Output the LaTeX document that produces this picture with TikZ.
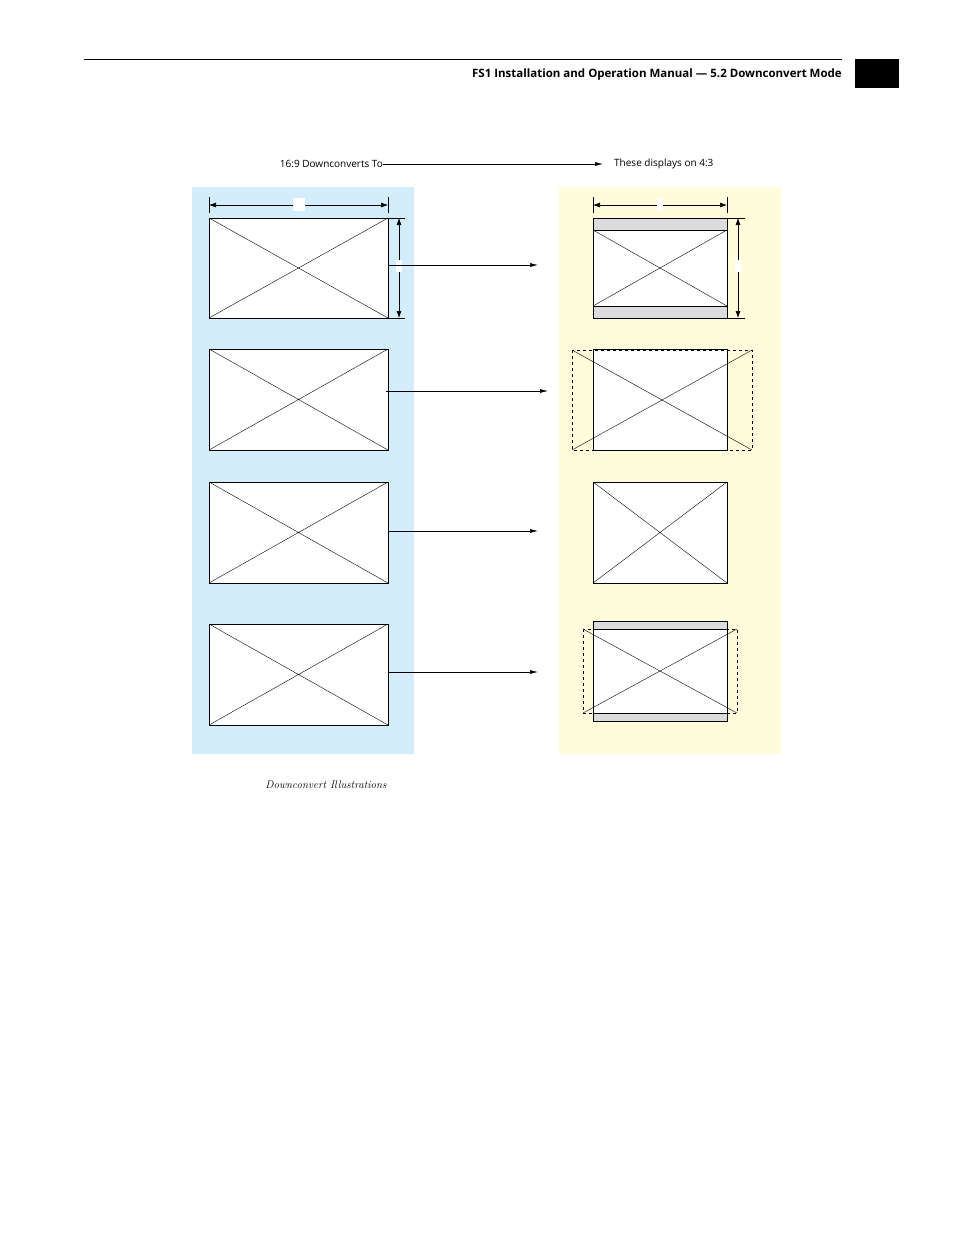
\documentclass[tikz,border=0pt]{standalone}
\usepackage{fontspec}
\setsansfont{Open Sans}
\usepackage{tikz}
\usetikzlibrary{calc,arrows.meta}
\definecolor{panelblue}{HTML}{D3EEFA}
\definecolor{panelyellow}{HTML}{FFFCDB}
\definecolor{bargray}{HTML}{DCDCDC}
\tikzset{
  frame/.style={draw, line width=0.7pt, fill=white},
  xline/.style={line width=0.4pt},
  dimline/.style={line width=0.6pt, {Latex[length=7pt,width=5pt]}-{Latex[length=7pt,width=5pt]}},
  conv/.style={line width=0.6pt, -{Latex[length=8pt,width=4pt]}},
  lbl/.style={font=\sffamily\fontsize{10}{12}\selectfont, inner sep=0pt}
}
\begin{document}
\begin{tikzpicture}[x=1pt,y=-1pt]
        \useasboundingbox (0,0) rectangle (954,1235);
        \pgfmathsetmacro{\lx}{209}
        \pgfmathsetmacro{\rx}{388}
        \pgfmathsetmacro{\ax}{593}
        \pgfmathsetmacro{\bx}{727}
        % header
        \draw[line width=0.6pt] (84,59) -- (842,59);
        \node[anchor=east, font=\sffamily\bfseries\fontsize{11.5}{14}\selectfont, inner sep=0pt] (head) at (842,75) {FS1 Installation and Operation Manual --- 5.2 Downconvert Mode};
        \fill (855,59) rectangle (899,88);
        % titles
        \node[lbl, anchor=east] (from) at (383,164) {16:9 Downconverts To};
        \node[lbl, anchor=west] (to) at (614,164) {These displays on 4:3};
        \draw[conv] (from.east) -- (603,164);
        % panels
        \fill[panelblue] (192,187) rectangle (414,754);
        \fill[panelyellow] (559,187) rectangle (781,754);
        % left 16:9 frames
        \foreach \t/\b in {218/318, 349/450, 482/583, 624/725} {
          \draw[frame] (\lx,\t) rectangle (\rx,\b);
          \draw[xline] (\lx,\t) -- (\rx,\b) (\lx,\b) -- (\rx,\t);
        }
        % left dimensions
        \draw[xline] (\lx,197) -- (\lx,213) (\rx,197) -- (\rx,213);
        \draw[dimline] (\lx,205) -- (\rx,205);
        \fill[white] (293,198) rectangle (305,211);
        \draw[xline] (\rx,218) -- (405,218) (\rx,318) -- (405,318);
        \draw[dimline] (399,218) -- (399,318);
        \fill[white] (396,260) rectangle (402,272);
        % row 1: letterbox
        \draw[frame] (\ax,218) rectangle (\bx,318);
        \draw[frame, fill=bargray] (\ax,218) rectangle (\bx,230);
        \draw[frame, fill=bargray] (\ax,306) rectangle (\bx,318);
        \draw[xline] (\ax,230) -- (\bx,306) (\ax,306) -- (\bx,230);
        \draw[xline] (\ax,197) -- (\ax,213) (\bx,197) -- (\bx,213);
        \draw[dimline] (\ax,205) -- (\bx,205);
        \fill[white] (657,198) rectangle (663,211);
        \draw[xline] (\bx,218) -- (745,218) (\bx,318) -- (745,318);
        \draw[dimline] (738,218) -- (738,318);
        \fill[white] (735,260) rectangle (741,272);
        % row 2: crop
        \draw[frame] (\ax,349) rectangle (\bx,450);
        \draw[xline, dashed] (572,350) rectangle (752,450);
        \draw[xline] (572,350) -- (752,450) (572,450) -- (752,350);
        % row 3: anamorphic
        \draw[frame] (\ax,482) rectangle (\bx,583);
        \draw[xline] (\ax,482) -- (\bx,583) (\ax,583) -- (\bx,482);
        % row 4: 14:9
        \draw[frame] (\ax,621) rectangle (\bx,721);
        \draw[frame, fill=bargray] (\ax,621) rectangle (\bx,629);
        \draw[frame, fill=bargray] (\ax,713) rectangle (\bx,721);
        \draw[xline, dashed] (583,629) rectangle (737,713);
        \draw[xline] (583,629) -- (737,713) (583,713) -- (737,629);
        % conversion arrows
        \draw[conv] (\rx,265) -- (538,265);
        \draw[conv] (386,391) -- (548,391);
        \draw[conv] (\rx,531) -- (538,531);
        \draw[conv] (\rx,672) -- (538,672);
        % caption
        \node[font=\itshape\fontsize{11}{13}\selectfont] (cap) at (326,785) {Downconvert Illustrations};
\end{tikzpicture}
\end{document}
